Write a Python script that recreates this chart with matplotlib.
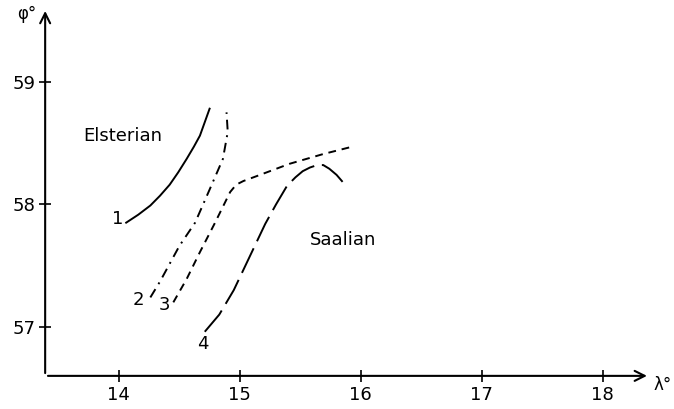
import matplotlib.pyplot as plt

# curve 1 (solid, Elsterian)
x1 = [14.06, 14.16, 14.26, 14.34, 14.42, 14.49, 14.56, 14.62, 14.67, 14.71, 14.75]
y1 = [57.85, 57.915, 57.99, 58.07, 58.16, 58.26, 58.37, 58.47, 58.56, 58.67, 58.78]
# curve 2 (dash-dot)
x2 = [14.26, 14.34, 14.50, 14.63, 14.75, 14.86, 14.90, 14.89]
y2 = [57.24, 57.37, 57.66, 57.85, 58.12, 58.37, 58.59, 58.75]
# curve 3 (dashed)
x3 = [14.45, 14.56, 14.67, 14.79, 14.92, 14.97, 15.03, 15.14, 15.41, 15.69, 15.93]
y3 = [57.20, 57.39, 57.61, 57.84, 58.10, 58.16, 58.19, 58.23, 58.33, 58.41, 58.47]
# curve 4 (long dash, Saalian)
x4 = [14.71, 14.83, 14.95, 15.08, 15.21, 15.30, 15.39, 15.46, 15.52, 15.58, 15.64, 15.69, 15.74, 15.80, 15.87]
y4 = [56.96, 57.10, 57.30, 57.57, 57.84, 58.00, 58.15, 58.22, 58.27, 58.30, 58.32, 58.32, 58.29, 58.24, 58.16]

curve_labels = ['1', '2', '3', '4']
label_x = [13.99, 14.16, 14.38, 14.69]
label_y = [57.88, 57.22, 57.18, 56.86]

xticks = [14, 15, 16, 17, 18]
yticks = [57, 58, 59]

fig = plt.figure(figsize=(6.74, 4.09), dpi=100)
ax = fig.add_axes([0.067, 0.081, 0.897, 0.899])
ax.set_xlim(13.39, 18.39)
ax.set_ylim(56.6, 59.6)

lw = 1.4
ax.plot(x1, y1, color='black', lw=lw)
ax.plot(x2, y2, color='black', lw=lw, linestyle=(0, (5, 3, 1, 3)))
ax.plot(x3, y3, color='black', lw=lw, linestyle=(0, (4, 3)))
ax.plot(x4, y4, color='black', lw=lw, linestyle=(0, (14, 4)))

for t, lx, ly in zip(curve_labels, label_x, label_y):
    ax.text(lx, ly, t, fontsize=13, ha='center', va='center')

ax.text(14.03, 58.56, 'Elsterian', fontsize=13, ha='center', va='center')
ax.text(15.85, 57.71, 'Saalian', fontsize=13, ha='center', va='center')

for s in ax.spines.values():
    s.set_visible(False)
ax.annotate('', xy=(1.0, 0), xytext=(0, 0), xycoords='axes fraction',
            arrowprops=dict(arrowstyle='->', lw=1.5, color='black', mutation_scale=18))
ax.annotate('', xy=(0, 1.0), xytext=(0, 0), xycoords='axes fraction',
            arrowprops=dict(arrowstyle='->', lw=1.5, color='black', mutation_scale=18))

ax.set_xticks(xticks)
ax.set_yticks(yticks)
ax.tick_params(direction='inout', length=8, width=1.2, labelsize=13, pad=3)
ax.text(1.006, -0.025, 'λ°', transform=ax.transAxes, fontsize=12, va='center', ha='left')
ax.text(-0.03, 0.985, 'φ°', transform=ax.transAxes, fontsize=12, va='center', ha='center')

fig.savefig('out.png', dpi=100)
